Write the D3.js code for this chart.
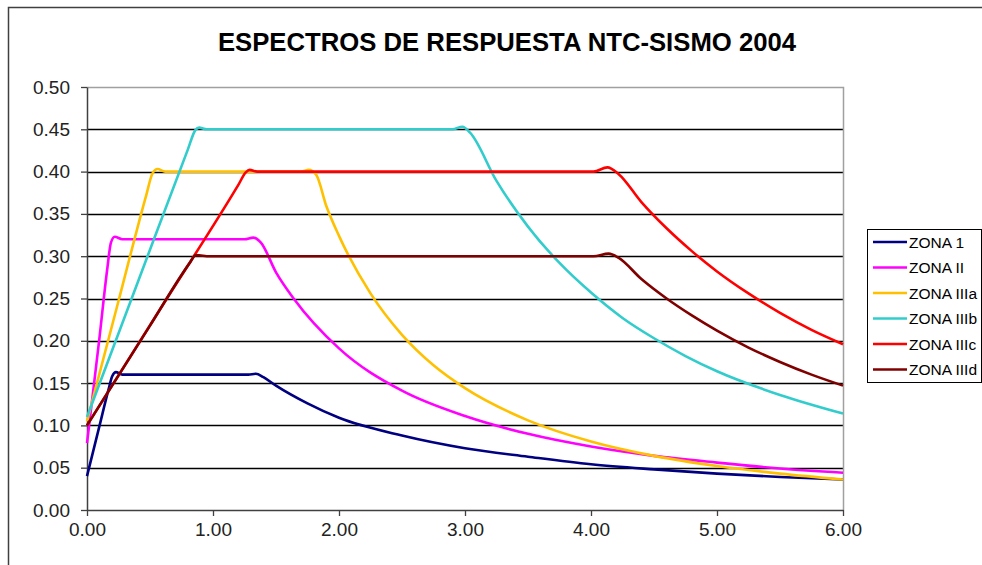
<!DOCTYPE html>
<html>
<head>
<meta charset="utf-8">
<script src="https://cdn.jsdelivr.net/npm/d3@7"></script>
<style>
  body { margin: 0; background: #fff; }
  svg { display: block; font-family: "Liberation Sans", Arial, sans-serif; }
</style>
</head>
<body>
<div id="chart"></div>
<script>
// datos: [periodo T (s), Sa (g)]
const zona1 = [[0, 0.040], [0.10, 0.100], [0.17, 0.142], [0.20, 0.158], [0.23, 0.163], [0.28, 0.160],
  [1.28, 0.160], [1.34, 0.161], [1.40, 0.157], [1.50, 0.147], [1.75, 0.126], [2.00, 0.109], [2.50, 0.088],
  [3.00, 0.073], [3.50, 0.063], [4.00, 0.054], [4.50, 0.048], [5.00, 0.043], [5.50, 0.039], [6.00, 0.036]];
const zona2 = [[0, 0.079], [0.10, 0.205], [0.16, 0.284], [0.19, 0.316], [0.22, 0.323], [0.28, 0.320],
  [1.25, 0.320], [1.32, 0.322], [1.38, 0.316], [1.50, 0.281], [1.64, 0.250], [2.00, 0.191], [2.50, 0.141],
  [3.00, 0.111], [3.50, 0.090], [4.00, 0.075], [4.50, 0.064], [5.00, 0.056], [5.50, 0.049], [6.00, 0.044]];
const zona3a = [[0, 0.105], [0.25, 0.247], [0.47, 0.372], [0.52, 0.398], [0.56, 0.403], [0.62, 0.400],
  [1.70, 0.400], [1.76, 0.402], [1.82, 0.396], [1.90, 0.359], [2.00, 0.324], [2.25, 0.256], [2.50, 0.207],
  [2.75, 0.171], [3.00, 0.144], [3.50, 0.106], [4.00, 0.081], [4.50, 0.064], [5.00, 0.052], [5.50, 0.043], [6.00, 0.036]];
const zona3b = [[0, 0.110], [0.40, 0.268], [0.80, 0.426], [0.86, 0.449], [0.89, 0.452], [0.95, 0.450],
  [2.90, 0.450], [2.98, 0.453], [3.04, 0.446], [3.25, 0.389], [3.50, 0.335], [3.75, 0.292], [4.00, 0.257],
  [4.25, 0.227], [4.50, 0.203], [4.75, 0.182], [5.00, 0.164], [5.50, 0.136], [6.00, 0.114]];
const zona3c = [[0, 0.100], [0.60, 0.242], [1.20, 0.384], [1.26, 0.399], [1.29, 0.402], [1.35, 0.400],
  [4.02, 0.400], [4.13, 0.405], [4.22, 0.397], [4.40, 0.364], [4.60, 0.333], [4.80, 0.306],
  [5.00, 0.282], [5.25, 0.256], [5.50, 0.233], [5.75, 0.213], [6.00, 0.196]];
const zona3d = [[0, 0.100], [0.50, 0.218], [0.82, 0.293], [0.86, 0.301], [0.89, 0.301], [0.95, 0.300],
  [4.02, 0.300], [4.14, 0.303], [4.22, 0.298], [4.40, 0.273], [4.60, 0.250], [4.80, 0.230], [5.00, 0.212],
  [5.25, 0.192], [5.50, 0.175], [5.75, 0.160], [6.00, 0.147]];

const seriesNames = ["ZONA 1", "ZONA II", "ZONA IIIa", "ZONA IIIb", "ZONA IIIc", "ZONA IIId"];
const seriesData = [zona1, zona2, zona3a, zona3b, zona3c, zona3d];
const seriesColors = ["#000080", "#ff00ff", "#ffc000", "#33cccc", "#ff0000", "#800000"];

const xTicks = [0, 1, 2, 3, 4, 5, 6];
const yTicks = [0, 0.05, 0.10, 0.15, 0.20, 0.25, 0.30, 0.35, 0.40, 0.45, 0.50];
const title = "ESPECTROS DE RESPUESTA NTC-SISMO 2004";

const width = 982, height = 565;
const margin = { top: 87, right: 139, bottom: 55, left: 87 };
const plotW = width - margin.left - margin.right;
const plotH = height - margin.top - margin.bottom;

const svg = d3.select("#chart").append("svg")
  .attr("width", width)
  .attr("height", height);

// marco del area del grafico (recortado)
svg.append("path")
  .attr("d", `M8.5,${height} V7.5 H${width}`)
  .attr("fill", "none")
  .attr("stroke", "#404040")
  .attr("stroke-width", 1.5);

svg.append("text")
  .attr("x", 507)
  .attr("y", 51)
  .attr("text-anchor", "middle")
  .attr("font-size", "25.7px")
  .attr("font-weight", "bold")
  .attr("fill", "#000")
  .text(title);

const x = d3.scaleLinear().domain([0, 6]).range([0, plotW]);
const y = d3.scaleLinear().domain([0, 0.5]).range([plotH, 0]);

const plot = svg.append("g")
  .attr("transform", `translate(${margin.left},${margin.top})`);

// lineas de division
plot.append("g")
  .selectAll("line")
  .data(yTicks.slice(1, -1))
  .join("line")
  .attr("x1", 0)
  .attr("x2", plotW)
  .attr("y1", d => Math.round(y(d)) + 0.5)
  .attr("y2", d => Math.round(y(d)) + 0.5)
  .attr("stroke", "#000")
  .attr("stroke-width", 1.3);

// borde del area de trazado
plot.append("path")
  .attr("d", `M0,0.5 H${plotW + 0.5} V${plotH}`)
  .attr("fill", "none")
  .attr("stroke", "#a0a0a0")
  .attr("stroke-width", 1.5);

const xAxis = plot.append("g")
  .attr("transform", `translate(0,${plotH})`)
  .call(d3.axisBottom(x).tickValues(xTicks).tickSize(6).tickSizeOuter(0).tickFormat(d3.format(".2f")));
const yAxis = plot.append("g")
  .call(d3.axisLeft(y).tickValues(yTicks).tickSize(6).tickSizeOuter(0).tickFormat(d3.format(".2f")));

[xAxis, yAxis].forEach(g => {
  g.select(".domain").attr("stroke", "#404040").attr("stroke-width", 1.5);
  g.selectAll(".tick line").attr("stroke", "#404040").attr("stroke-width", 1.3);
  g.selectAll(".tick text")
    .attr("font-family", "Liberation Sans, Arial, sans-serif")
    .attr("font-size", "19px")
    .attr("fill", "#222");
});
xAxis.selectAll(".tick text").attr("y", 13).attr("dy", "0.71em");
yAxis.selectAll(".tick text").attr("x", -17);

const line = d3.line()
  .x(d => x(d[0]))
  .y(d => y(d[1]))
  .curve(d3.curveMonotoneX);

plot.append("g")
  .selectAll("path")
  .data(seriesData)
  .join("path")
  .attr("d", line)
  .attr("fill", "none")
  .attr("stroke", (d, i) => seriesColors[i])
  .attr("stroke-width", 2.6)
  .attr("stroke-linejoin", "round");

// leyenda
const legend = svg.append("g").attr("transform", "translate(867,229)");
legend.append("rect")
  .attr("x", 0.5)
  .attr("y", 0.5)
  .attr("width", 114)
  .attr("height", 153)
  .attr("fill", "#fff")
  .attr("stroke", "#000")
  .attr("stroke-width", 1);

const items = legend.selectAll("g.item")
  .data(seriesNames)
  .join("g")
  .attr("class", "item")
  .attr("transform", (d, i) => `translate(0,${13 + i * 25.5})`);
items.append("line")
  .attr("x1", 6)
  .attr("x2", 40)
  .attr("stroke", (d, i) => seriesColors[i])
  .attr("stroke-width", 2.6);
items.append("text")
  .attr("x", 42)
  .attr("dy", "0.36em")
  .attr("font-size", "15.5px")
  .attr("fill", "#000")
  .text(d => d);
</script>
</body>
</html>
